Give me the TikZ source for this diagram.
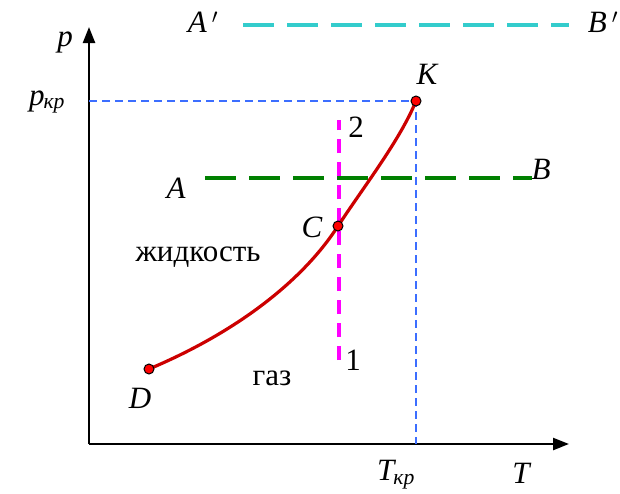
\documentclass[tikz,border=0pt]{standalone}
\usepackage{fontspec}
\setmainfont{Liberation Serif}
\usetikzlibrary{arrows.meta}
\definecolor{magpure}{RGB}{255,0,255}
\definecolor{cyanline}{RGB}{51,204,204}
\definecolor{greenline}{RGB}{0,128,0}
\definecolor{blueline}{RGB}{60,110,255}
\definecolor{curvered}{RGB}{204,0,0}
\definecolor{dotred}{RGB}{255,0,0}
\begin{document}
\begin{tikzpicture}[x=1pt,y=-1pt,
  lbl/.style={inner sep=0pt,font=\fontsize{31}{34}\selectfont\itshape},
  txt/.style={inner sep=0pt,font=\fontsize{31}{34}\selectfont},
  axis/.style={line width=2.4pt,-{Triangle[length=16pt,width=12pt]}},
  crit/.style={draw=blueline,line width=2pt,dash pattern=on 8pt off 5pt},
  pt/.style={circle,fill=dotred,draw=black,line width=1pt,inner sep=0pt,minimum size=10pt},
  curve/.style={draw=curvered,line width=3.2pt}]
\useasboundingbox (0,0) rectangle (620,493);
\coordinate (O) at (89,444);
\coordinate (Ytip) at (89,27);
\coordinate (Xtip) at (569,444);
\draw[axis] (O) -- (Ytip);
\draw[axis] (O) -- (Xtip);
% critical lines
\coordinate (Pk) at (89,101);
\coordinate (Tk) at (416,444);
\node[pt,draw=none,fill=none] (K) at (416,101) {};
\draw[crit] (Pk) -- (K.center) -- (Tk);
% A'B'
\coordinate (Ap1) at (243,25);
\coordinate (Bp1) at (569,25);
\draw[draw=cyanline,line width=3.5pt,dash pattern=on 31pt off 13pt] (Ap1) -- (Bp1);
% AB
\coordinate (A1) at (205,178);
\coordinate (B1) at (532,178);
\draw[draw=greenline,line width=3.5pt,dash pattern=on 31pt off 13pt] (A1) -- (B1);
% 1-2
\coordinate (L1) at (339,360);
\coordinate (L2) at (339,120);
\draw[draw=magpure,line width=3.5pt,dash pattern=on 14pt off 9pt] (L1) -- (L2);
% curve
\node[pt,draw=none,fill=none] (D) at (149,369) {};
\node[pt,draw=none,fill=none] (C) at (338,226) {};
\draw[curve] (D.center) .. controls (230,335) and (300,285) .. (C.center)
  .. controls (365,185) and (400,140) .. (K.center);
\node[pt] at (D) {};
\node[pt] at (C) {};
\node[pt] at (K) {};
% labels
\node[lbl] (lp) at (65,42) {p};
\node[lbl] (lpk) at (47,102) {p\textsubscript{\kern-1pt кр}};
\node[lbl] (lK) at (427,74) {K};
\node[lbl] (lAp) at (203,22) {A\,$'$};
\node[lbl] (lBp) at (603,22) {B\,$'$};
\node[lbl] (lA) at (176,188) {A};
\node[lbl] (lB) at (541,169) {B};
\node[lbl] (lC) at (312,227) {C};
\node[lbl] (lD) at (140,398) {D};
\node[txt] (l2) at (356,127) {2};
\node[txt] (l1) at (353,360) {1};
\node[txt] (liq) at (198,257) {жидкость};
\node[txt] (gas) at (272,378) {газ};
\node[lbl] (lTk) at (396,475) {T\textsubscript{\kern-1pt кр}};
\node[lbl] (lT) at (521,473) {T};
\end{tikzpicture}
\end{document}
